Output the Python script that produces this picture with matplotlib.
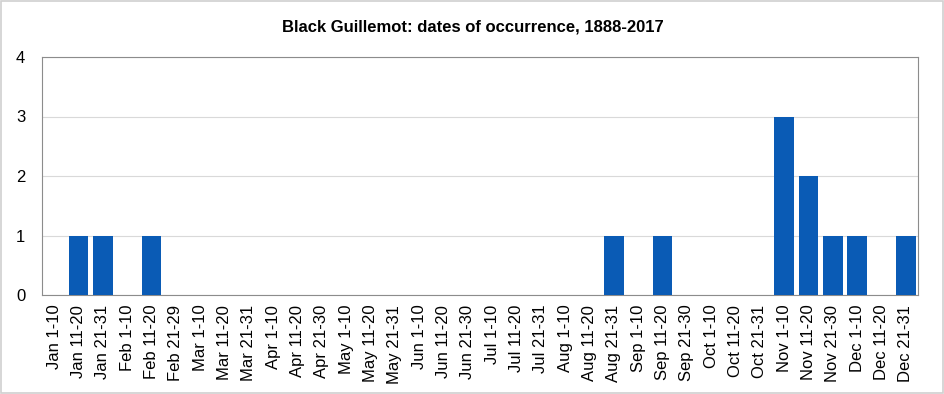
import numpy as np
import matplotlib.pyplot as plt
from matplotlib.patches import Rectangle

months = ['Jan', 'Feb', 'Mar', 'Apr', 'May', 'Jun',
          'Jul', 'Aug', 'Sep', 'Oct', 'Nov', 'Dec']
month_ends = ['31', '29', '31', '30', '31', '30', '31', '31', '30', '31', '30', '31']
periods = []
for m, e in zip(months, month_ends):
    periods += [m + ' 1-10', m + ' 11-20', m + ' 21-' + e]

counts = [0, 1, 1, 0, 1, 0,
          0, 0, 0, 0, 0, 0,
          0, 0, 0, 0, 0, 0,
          0, 0, 0, 0, 0, 1,
          0, 1, 0, 0, 0, 0,
          3, 2, 1, 1, 0, 1]

plt.rcParams['font.family'] = ['Liberation Sans', 'DejaVu Sans']

fig = plt.figure(figsize=(9.45, 3.94), dpi=100)
ax = fig.add_axes([42/945, 1 - 295/394, 876/945, 238/394])

x = np.arange(len(periods))
ax.bar(x, counts, width=0.82, color='#0a5bb5', zorder=3)

ax.set_xlim(-0.5, len(periods) - 0.5)
ax.set_ylim(0, 4)
ax.set_yticks([0, 1, 2, 3, 4])
ax.set_xticks(x)
ax.set_xticklabels(periods, rotation=90, fontsize=12)
ax.tick_params(axis='y', labelsize=12, length=0, pad=12)
ax.tick_params(axis='x', length=0, pad=7)
ax.grid(axis='y', color='#d9d9d9', linewidth=0.8, zorder=0)
for s in ax.spines.values():
    s.set_color('#8c8c8c')
    s.set_linewidth(0.8)

fig.suptitle('Black Guillemot: dates of occurrence, 1888-2017',
             y=1 - 20/394, fontsize=12, fontweight='bold')

fig.patches.append(Rectangle((0.001, 0.002), 0.997, 0.995, transform=fig.transFigure,
                             fill=False, edgecolor='#d0d0d0', linewidth=1.2))

fig.savefig('out.png', dpi=100)
